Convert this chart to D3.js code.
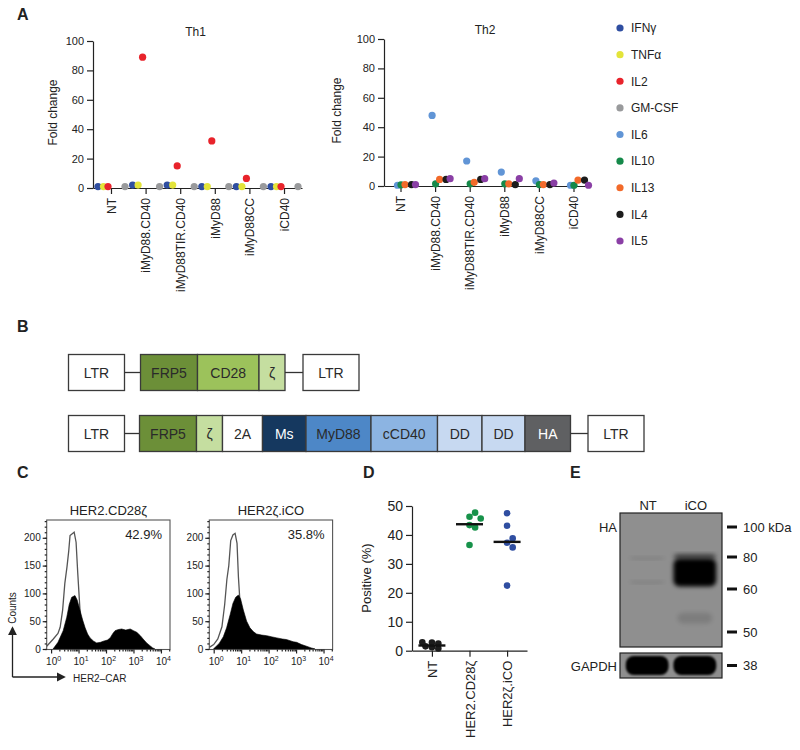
<!DOCTYPE html>
<html>
<head>
<meta charset="utf-8">
<script src="https://cdn.jsdelivr.net/npm/d3@7"></script>
<style>
  body { margin: 0; background: #fff; }
  svg { font-family: "Liberation Sans", Arial, sans-serif; }
</style>
</head>
<body>
<svg id="fig" width="800" height="750"></svg>
<script>
// ---------- data ----------

// Panel A: fold change per construct
const groups = ["NT", "iMyD88.CD40", "iMyD88TIR.CD40", "iMyD88", "iMyD88CC", "iCD40"];
const th1Cytokines = ["IFNγ", "TNFα", "IL2", "GM-CSF"];
const th2Cytokines = ["IL6", "IL10", "IL13", "IL4", "IL5"];

const th1IFNg = [1, 2, 2, 1, 1, 1];
const th1TNFa = [1, 2, 2, 1, 1, 1];
const th1IL2 = [1, 89, 15, 32, 6.5, 1];
const th1GMCSF = [1, 1, 1, 1, 1, 1];

const th2IL6 = [0.5, 48, 17, 9.5, 3.5, 0.5];
const th2IL10 = [0.8, 1.5, 1.5, 1.5, 1, 0.5];
const th2IL13 = [1, 4.5, 2.5, 1.5, 1, 4];
const th2IL4 = [1, 4.5, 4.5, 1, 1, 4];
const th2IL5 = [1, 5, 5, 5, 2, 0.5];

const foldTicks = [0, 20, 40, 60, 80, 100];

// Panel B: construct segments (relative lengths)
const construct1Labels = ["LTR", "", "FRP5", "CD28", "ζ", "", "LTR"];
const construct1Lengths = [56, 16, 57, 61.5, 26, 18, 56];
const construct2Labels = ["LTR", "", "FRP5", "ζ", "2A", "Ms", "MyD88", "cCD40", "DD", "DD", "HA", "", "LTR"];
const construct2Lengths = [56, 15, 57, 26, 40, 43.5, 65, 66.5, 44.5, 43, 45.5, 17.5, 56];

// Panel C: flow histograms, [log10 fluorescence, counts]
const histTitles = ["HER2.CD28ζ", "HER2ζ.iCO"];
const histPercent = ["42.9%", "35.8%"];
const ctrl1 = [[-0.16,5],[0.08,18],[0.25,28],[0.33,39],[0.42,70],[0.5,118],[0.58,148],[0.64,175],[0.69,204],[0.84,210],[0.91,192],[0.97,137],[1.03,88],[1.09,39],[1.15,5],[1.24,0]];
const car1 = [[0.07,0],[0.25,12],[0.44,33],[0.57,57],[0.66,80],[0.75,93],[0.87,96],[0.95,88],[1.05,70],[1.15,52],[1.24,38],[1.33,27],[1.42,20],[1.55,14],[1.66,11],[1.8,12],[1.9,14],[2.05,16],[2.15,20],[2.25,28],[2.33,33],[2.45,35],[2.57,36],[2.72,34],[2.88,36],[3.0,33],[3.12,30],[3.25,24],[3.35,18],[3.48,11],[3.6,6],[3.7,2],[3.78,0]];
const ctrl2 = [[-0.16,3],[0,8],[0.15,18],[0.3,40],[0.4,80],[0.48,125],[0.55,150],[0.62,195],[0.7,205],[0.78,208],[0.85,190],[0.9,130],[0.95,90],[1.02,40],[1.08,10],[1.15,0]];
const car2 = [[-0.01,0],[0.2,10],[0.35,22],[0.47,38],[0.6,62],[0.7,82],[0.8,93],[0.9,97],[0.98,90],[1.08,70],[1.2,50],[1.32,38],[1.45,31],[1.56,27],[1.75,25],[1.93,24],[2.1,22],[2.3,20],[2.5,18],[2.65,17],[2.78,15],[2.9,13],[3.02,12],[3.2,8],[3.38,5],[3.55,2],[3.69,0]];
const countTicks = [0, 50, 100, 150, 200];
const decadeTicks = [0, 1, 2, 3, 4];

// Panel D: % positive
const dGroups = ["NT", "HER2.CD28ζ", "HER2ζ.iCO"];
const ntPositive = [2.8, 2.5, 1.2, 0.8, 1.5, 2.9];
const cd28Positive = [46.3, 47.7, 45.7, 43.4, 42.6, 36.5];
const icoPositive = [47.5, 43.2, 37.3, 38.8, 35.7, 22.5];
const dMedians = [1.8, 43.7, 37.6];
const positiveTicks = [0, 10, 20, 30, 40, 50];

// Panel E: western blot
const lanes = ["NT", "iCO"];
const markerKDa = [100, 80, 60, 50];
const bandLane = ["NT", "NT", "iCO", "iCO", "iCO"];
const bandTopKDa = [80, 65, 82, 79, 54.5];
const bandBottomKDa = [78.5, 63.5, 79, 61.5, 52];
const bandIntensity = [0.12, 0.12, 0.55, 1, 0.12];
const gapdhKDa = 38;

// ---------- drawing ----------
const svg = d3.select("#fig");
const ink = "#222";

const colors = {
  "IFNγ": "#2f4ea1", "TNFα": "#e3e43a", "IL2": "#e8232b", "GM-CSF": "#999a9c",
  "IL6": "#6195d6", "IL10": "#15894a", "IL13": "#f26a2a", "IL4": "#1c1c1c", "IL5": "#8a3fa5"
};

function styleAxis(g, fs) {
  g.attr("font-family", null).attr("font-size", fs);
  g.selectAll("path, line").attr("stroke", ink).attr("stroke-width", 1.2);
  g.selectAll("text").attr("fill", ink);
  return g;
}

function panelLetter(t, x, y) {
  svg.append("text").attr("x", x).attr("y", y).attr("font-size", 16)
    .attr("font-weight", "bold").attr("fill", ink).text(t);
}

panelLetter("A", 17, 20);
panelLetter("B", 17, 332);
panelLetter("C", 17, 478);
panelLetter("D", 363, 478);
panelLetter("E", 570, 478);

// ----- Panel A -----
function foldPanel(opt) {
  const x = d3.scalePoint().domain(groups).range([opt.x0, opt.x1]).padding(opt.pad);
  const y = d3.scaleLinear().domain([0, 100]).range([opt.yb, opt.yt]);

  styleAxis(svg.append("g").attr("transform", `translate(${opt.x0},0)`)
    .call(d3.axisLeft(y).tickValues(foldTicks).tickSize(6).tickPadding(3).tickSizeOuter(0)), 11);

  const gx = svg.append("g").attr("transform", `translate(0,${opt.yb})`)
    .call(d3.axisBottom(x).tickSize(6).tickSizeOuter(0));
  styleAxis(gx, 12);
  gx.selectAll(".tick text").attr("transform", "rotate(-90)")
    .attr("text-anchor", "end").attr("x", -10).attr("y", 0).attr("dy", "0.35em");

  svg.append("text").attr("x", (opt.x0 + opt.x1) / 2 - 2).attr("y", opt.yt - 5)
    .attr("text-anchor", "middle").attr("font-size", 12).attr("fill", ink).text(opt.title);

  svg.append("text").attr("transform", `translate(${opt.labelX},${(opt.yt + opt.yb) / 2 - 2}) rotate(-90)`)
    .attr("text-anchor", "middle").attr("font-size", 12).attr("fill", ink).text("Fold change");

  opt.cytokines.forEach((c, ci) => {
    svg.append("g").selectAll("circle")
      .data(opt.series[ci])
      .join("circle")
      .attr("cx", (d, i) => x(groups[i]) + opt.offsets[c])
      .attr("cy", d => y(d))
      .attr("r", 3.6)
      .attr("fill", colors[c]);
  });
}

foldPanel({
  x0: 93, x1: 302, pad: 0.52, yt: 41, yb: 188, title: "Th1", labelX: 57,
  cytokines: th1Cytokines, series: [th1IFNg, th1TNFa, th1IL2, th1GMCSF],
  offsets: { "IFNγ": -13, "TNFα": -7.5, "IL2": -3, "GM-CSF": 14 }
});

foldPanel({
  x0: 384, x1: 590, pad: 0.477, yt: 39, yb: 186, title: "Th2", labelX: 341,
  cytokines: th2Cytokines, series: [th2IL6, th2IL10, th2IL13, th2IL4, th2IL5],
  offsets: { "IL6": -3, "IL10": 0.5, "IL13": 4.5, "IL4": 11, "IL5": 15 }
});

// legend
const legendNames = th1Cytokines.concat(th2Cytokines);
const ly = d3.scalePoint().domain(legendNames).range([28, 241]);
const lg = svg.append("g");
lg.selectAll("circle").data(legendNames).join("circle")
  .attr("cx", 620).attr("cy", d => ly(d)).attr("r", 3.6).attr("fill", d => colors[d]);
lg.selectAll("text").data(legendNames).join("text")
  .attr("x", 631).attr("y", d => ly(d)).attr("dy", "0.36em")
  .attr("font-size", 12).attr("fill", ink).text(d => d);

// ----- Panel B -----
const segFill = {
  "LTR": "#ffffff", "FRP5": "#6c8f38", "CD28": "#9cc25b", "ζ": "#c5dea0", "2A": "#ffffff",
  "Ms": "#15385f", "MyD88": "#4d87c7", "cCD40": "#8cb4e2", "DD": "#c7d9f1", "HA": "#5f6062"
};
const segText = { "Ms": "#ffffff", "HA": "#ffffff" };

function construct(labels, lengths, yTop) {
  const h = 36;
  const total = d3.sum(lengths);
  const xs = d3.scaleLinear().domain([0, total]).range([68.5, 68.5 + total]);
  const starts = d3.cumsum([0].concat(lengths));
  const g = svg.append("g");
  labels.forEach((lab, i) => {
    const a = xs(starts[i]), b = xs(starts[i] + lengths[i]);
    if (lab === "") {
      g.append("line").attr("x1", a).attr("x2", b).attr("y1", yTop + h / 2).attr("y2", yTop + h / 2)
        .attr("stroke", "#333").attr("stroke-width", 1.3);
      return;
    }
    g.append("rect").attr("x", a).attr("y", yTop).attr("width", b - a).attr("height", h)
      .attr("fill", segFill[lab]).attr("stroke", "#3a3a3a").attr("stroke-width", 1.3);
    g.append("text").attr("x", (a + b) / 2).attr("y", yTop + h / 2).attr("dy", "0.36em")
      .attr("text-anchor", "middle").attr("font-size", 14)
      .attr("fill", segText[lab] || "#2a2a2a").text(lab);
  });
}
construct(construct1Labels, construct1Lengths, 354.5);
construct(construct2Labels, construct2Lengths, 415.5);

// ----- Panel C -----
const hy = d3.scaleLinear().domain([0, 232]).range([649, 520]);
const histSets = [[ctrl1, car1], [ctrl2, car2]];
const frames = [[46.7, 170], [209.3, 332.6]];

frames.forEach((fr, k) => {
  const hx = d3.scaleLog().domain([Math.pow(10, -0.16), Math.pow(10, 4.33)]).range(fr);
  const g = svg.append("g");

  const [ctrl, car] = histSets[k];
  g.append("path").datum(ctrl)
    .attr("d", d3.line().x(d => hx(Math.pow(10, d[0]))).y(d => hy(d[1])))
    .attr("fill", "none").attr("stroke", "#555").attr("stroke-width", 1.3);
  g.append("path").datum(car)
    .attr("d", d3.area().x(d => hx(Math.pow(10, d[0]))).y0(hy(0)).y1(d => hy(d[1])))
    .attr("fill", "#000").attr("stroke", "#000").attr("stroke-width", 0.6);

  g.append("rect").attr("x", fr[0]).attr("y", 520).attr("width", fr[1] - fr[0]).attr("height", 129.5)
    .attr("fill", "none").attr("stroke", "#555").attr("stroke-width", 1.1);

  // y axis with minor ticks
  const minorY = d3.range(0, 231, 10);
  styleAxis(g.append("g").attr("transform", `translate(${fr[0]},0)`)
    .call(d3.axisLeft(hy).tickValues(minorY).tickSize(2).tickFormat("").tickSizeOuter(0)), 10)
    .select(".domain").remove();
  styleAxis(g.append("g").attr("transform", `translate(${fr[0]},0)`)
    .call(d3.axisLeft(hy).tickValues(countTicks).tickSize(4).tickPadding(2).tickSizeOuter(0)), 10)
    .select(".domain").remove();

  // x axis, log decades with minor ticks
  const minorX = [];
  decadeTicks.forEach(e => { for (let m = 2; m < 10; m++) { const v = m * Math.pow(10, e); if (Math.log10(v) < 4.33) minorX.push(v); } });
  styleAxis(g.append("g").attr("transform", "translate(0,649.5)")
    .call(d3.axisBottom(hx).tickValues(minorX).tickSize(2).tickFormat("").tickSizeOuter(0)), 10)
    .select(".domain").remove();
  const gx = g.append("g").attr("transform", "translate(0,649.5)")
    .call(d3.axisBottom(hx).tickValues(decadeTicks.map(e => Math.pow(10, e))).tickSize(4).tickFormat("").tickSizeOuter(0));
  styleAxis(gx, 10).select(".domain").remove();
  gx.selectAll(".tick").append("text").attr("y", 15).attr("x", 2).attr("text-anchor", "middle")
    .attr("fill", ink).attr("font-size", 10)
    .each(function (d) {
      const t = d3.select(this);
      t.append("tspan").text("10");
      t.append("tspan").attr("dy", "-0.45em").attr("font-size", 7).text(Math.round(Math.log10(d)));
    });

  svg.append("text").attr("x", (fr[0] + fr[1]) / 2).attr("y", 515).attr("text-anchor", "middle")
    .attr("font-size", 13).attr("fill", ink).text(histTitles[k]);
  svg.append("text").attr("x", fr[1] - 8).attr("y", 539).attr("text-anchor", "end")
    .attr("font-size", 13).attr("fill", ink).text(histPercent[k]);
});

// axis arrows
const defs = svg.append("defs");
defs.append("marker").attr("id", "arr").attr("viewBox", "0 0 10 10").attr("refX", 8).attr("refY", 5)
  .attr("markerWidth", 7).attr("markerHeight", 7).attr("orient", "auto")
  .append("path").attr("d", "M0,0 L10,5 L0,10 z").attr("fill", ink);
svg.append("path").attr("d", "M12.5,677 L12.5,628").attr("stroke", ink).attr("stroke-width", 1.3)
  .attr("marker-end", "url(#arr)");
svg.append("path").attr("d", "M12.5,677 L64,677").attr("stroke", ink).attr("stroke-width", 1.3)
  .attr("marker-end", "url(#arr)");
svg.append("text").attr("transform", "translate(16,608) rotate(-90)").attr("text-anchor", "middle")
  .attr("font-size", 10).attr("fill", ink).text("Counts");
svg.append("text").attr("x", 73).attr("y", 681.5).attr("font-size", 10).attr("fill", ink).text("HER2–CAR");

// ----- Panel D -----
const dy = d3.scaleLinear().domain([0, 50]).range([650.7, 506]);
const dx = d3.scalePoint().domain(dGroups).range([412, 527]).padding(0.53);

styleAxis(svg.append("g").attr("transform", "translate(412,0)")
  .call(d3.axisLeft(dy).tickValues(positiveTicks).tickSize(6).tickPadding(3).tickSizeOuter(0)), 14);
const dgx = svg.append("g").attr("transform", "translate(0,650.7)")
  .call(d3.axisBottom(dx).tickSize(6).tickSizeOuter(0));
styleAxis(dgx, 13);
dgx.selectAll(".tick text").attr("transform", "rotate(-90)")
  .attr("text-anchor", "end").attr("x", -10).attr("y", 0).attr("dy", "0.36em");
svg.append("text").attr("transform", "translate(371,578) rotate(-90)").attr("text-anchor", "middle")
  .attr("font-size", 13).attr("fill", ink).text("Positive (%)");

function dodge(vals, cx, r, step, minD) {
  const placed = [];
  const steps = [0, 1, -1, 2, -2, 3, -3, 4, -4];
  return vals.map(v => {
    const py = dy(v);
    let px = cx;
    for (const s of steps) {
      px = cx + s * step;
      if (placed.every(p => Math.hypot(p[0] - px, p[1] - py) >= minD)) break;
    }
    placed.push([px, py]);
    return [px, py];
  });
}

const dSeries = [ntPositive, cd28Positive, icoPositive];
const dColors = ["#1c1c1c", "#17924a", "#2f4ea1"];
dSeries.forEach((vals, k) => {
  const cx = dx(dGroups[k]);
  const pts = k === 0 ? dodge(vals, cx, 3.3, 3.2, 4.2) : dodge(vals, cx, 3.3, 5.6, 5.9);
  svg.append("g").selectAll("circle").data(pts).join("circle")
    .attr("cx", d => d[0]).attr("cy", d => d[1]).attr("r", 3.3).attr("fill", dColors[k]);
  svg.append("line").attr("x1", cx - 13.5).attr("x2", cx + 13.5)
    .attr("y1", dy(dMedians[k])).attr("y2", dy(dMedians[k]))
    .attr("stroke", "#111").attr("stroke-width", 2.4);
});

// ----- Panel E -----
const blotX = d3.scaleBand().domain(lanes).range([620, 722]).paddingInner(0.06).paddingOuter(0.1);
const kda = d3.scaleLinear().domain(markerKDa).range([527, 557, 589, 632]);

const blur = defs.append("filter").attr("id", "blur").attr("x", "-30%").attr("y", "-60%")
  .attr("width", "160%").attr("height", "220%");
blur.append("feGaussianBlur").attr("stdDeviation", 2.2);
const blur2 = defs.append("filter").attr("id", "blur2").attr("x", "-30%").attr("y", "-60%")
  .attr("width", "160%").attr("height", "220%");
blur2.append("feGaussianBlur").attr("stdDeviation", 1.2);
defs.append("clipPath").attr("id", "clipHA").append("rect")
  .attr("x", 620).attr("y", 513).attr("width", 102).attr("height", 134);
defs.append("clipPath").attr("id", "clipG").append("rect")
  .attr("x", 620).attr("y", 653).attr("width", 102).attr("height", 25);

svg.append("rect").attr("x", 620).attr("y", 513).attr("width", 102).attr("height", 134)
  .attr("fill", "#8f8f8f");
const bandG = svg.append("g").attr("clip-path", "url(#clipHA)");
bandLane.forEach((ln, i) => {
  const y0 = kda(bandTopKDa[i]), y1 = kda(bandBottomKDa[i]);
  const inset = bandIntensity[i] > 0.5 ? 1 : 5;
  bandG.append("rect").attr("x", blotX(ln) + inset).attr("y", y0)
    .attr("width", blotX.bandwidth() - 2 * inset).attr("height", y1 - y0)
    .attr("rx", 6).attr("fill", "#000").attr("opacity", bandIntensity[i])
    .attr("filter", "url(#blur)");
});
svg.append("rect").attr("x", 620).attr("y", 513).attr("width", 102).attr("height", 134)
  .attr("fill", "none").attr("stroke", "#222").attr("stroke-width", 1.2);

svg.append("rect").attr("x", 620).attr("y", 653).attr("width", 102).attr("height", 25)
  .attr("fill", "#8f8f8f");
const gG = svg.append("g").attr("clip-path", "url(#clipG)");
lanes.forEach(ln => {
  gG.append("rect").attr("x", blotX(ln) + 1).attr("y", 656).attr("width", blotX.bandwidth() - 2)
    .attr("height", 19).attr("rx", 8).attr("fill", "#000").attr("filter", "url(#blur2)");
});
svg.append("rect").attr("x", 620).attr("y", 653).attr("width", 102).attr("height", 25)
  .attr("fill", "none").attr("stroke", "#222").attr("stroke-width", 1.2);

lanes.forEach(ln => {
  svg.append("text").attr("x", blotX(ln) + blotX.bandwidth() / 2 + 1).attr("y", 510)
    .attr("text-anchor", "middle").attr("font-size", 13).attr("fill", ink).text(ln);
});
svg.append("text").attr("x", 617).attr("y", 532).attr("text-anchor", "end")
  .attr("font-size", 13).attr("fill", ink).text("HA");
svg.append("text").attr("x", 617).attr("y", 671).attr("text-anchor", "end")
  .attr("font-size", 13).attr("fill", ink).text("GAPDH");

const markerNames = markerKDa.map((m, i) => i === 0 ? m + " kDa" : String(m));
markerKDa.forEach((m, i) => {
  svg.append("line").attr("x1", 727).attr("x2", 737).attr("y1", kda(m)).attr("y2", kda(m))
    .attr("stroke", "#111").attr("stroke-width", 3);
  svg.append("text").attr("x", 743).attr("y", kda(m)).attr("dy", "0.36em")
    .attr("font-size", 13).attr("fill", ink).text(markerNames[i]);
});
svg.append("line").attr("x1", 727).attr("x2", 737).attr("y1", 665.5).attr("y2", 665.5)
  .attr("stroke", "#111").attr("stroke-width", 3);
svg.append("text").attr("x", 743).attr("y", 665.5).attr("dy", "0.36em")
  .attr("font-size", 13).attr("fill", ink).text(String(gapdhKDa));
</script>
</body>
</html>
